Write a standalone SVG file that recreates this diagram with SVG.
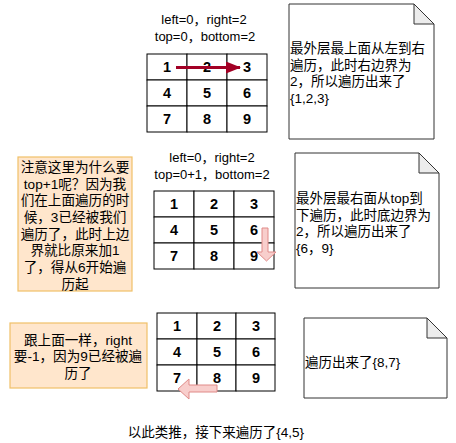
<svg xmlns="http://www.w3.org/2000/svg" width="456" height="443" viewBox="0 0 456 443">
<style>
text{font-family:"Liberation Sans","Noto Sans CJK SC",sans-serif;fill:#000}
.lbl{font-size:13px;text-anchor:middle}
.num{font-size:14.5px;font-weight:bold;text-anchor:middle}
.note{font-size:13.5px}
.cell{fill:#fff;stroke:#000;stroke-width:1}
.org{fill:#ffe6cc;stroke:#f0c068;stroke-width:1.2}
.ot{font-size:13.6px;text-anchor:middle}
.pg{fill:#fff;stroke:#333;stroke-width:1}
.fold{fill:#ececec;stroke:#333;stroke-width:1}
.blk{fill:#f8cecc;stroke:#e08a88;stroke-width:1}
</style>
<defs>
<marker id="ah" markerWidth="15" markerHeight="12" refX="14" refY="6" orient="auto" markerUnits="userSpaceOnUse"><path d="M0,0 L15,6 L0,12 Z" fill="#a20025"/></marker>
</defs>
<rect width="456" height="443" fill="#fff"/>

<g id="label1">
<text class="lbl" x="204" y="24">left=0，right=2</text>
<text class="lbl" x="205" y="41">top=0，bottom=2</text>
</g>
<g id="grid1">
<rect class="cell" x="147" y="54" width="40" height="26"/><rect class="cell" x="187" y="54" width="40" height="26"/><rect class="cell" x="227" y="54" width="40" height="26"/>
<rect class="cell" x="147" y="80" width="40" height="26"/><rect class="cell" x="187" y="80" width="40" height="26"/><rect class="cell" x="227" y="80" width="40" height="26"/>
<rect class="cell" x="147" y="106" width="40" height="26"/><rect class="cell" x="187" y="106" width="40" height="26"/><rect class="cell" x="227" y="106" width="40" height="26"/>
<text class="num" x="167" y="72">1</text><text class="num" x="207" y="72">2</text><text class="num" x="247" y="72">3</text>
<text class="num" x="167" y="98">4</text><text class="num" x="207" y="98">5</text><text class="num" x="247" y="98">6</text>
<text class="num" x="167" y="124">7</text><text class="num" x="207" y="124">8</text><text class="num" x="247" y="124">9</text>
</g>

<g id="note1">
<path class="pg" d="M289,4 H414 L434,24 V139 H289 Z"/>
<path class="fold" d="M414,4 V24 H434 Z"/>
<text class="note" x="290" y="53">最外层最上面从左到右</text>
<text class="note" x="290" y="70">遍历，此时右边界为</text>
<text class="note" x="290" y="86">2，所以遍历出来了</text>
<text class="note" x="290" y="103">{1,2,3}</text>
</g>

<g id="explain1">
<rect class="org" x="18" y="157" width="114" height="134"/>
<text class="ot" x="75" y="172">注意这里为什么要</text>
<text class="ot" x="75" y="189">top+1呢？因为我</text>
<text class="ot" x="75" y="205">们在上面遍历的时</text>
<text class="ot" x="75" y="222">候，3已经被我们</text>
<text class="ot" x="75" y="239">遍历了，此时上边</text>
<text class="ot" x="75" y="255">界就比原来加1</text>
<text class="ot" x="75" y="272">了，得从6开始遍</text>
<text class="ot" x="75" y="289">历起</text>
</g>

<g id="label2">
<text class="lbl" x="212" y="162">left=0，right=2</text>
<text class="lbl" x="212" y="179">top=0+1，bottom=2</text>
</g>
<g id="grid2">
<rect class="cell" x="154" y="191" width="40" height="26"/><rect class="cell" x="194" y="191" width="40" height="26"/><rect class="cell" x="234" y="191" width="40" height="26"/>
<rect class="cell" x="154" y="217" width="40" height="26"/><rect class="cell" x="194" y="217" width="40" height="26"/><rect class="cell" x="234" y="217" width="40" height="26"/>
<rect class="cell" x="154" y="243" width="40" height="26"/><rect class="cell" x="194" y="243" width="40" height="26"/><rect class="cell" x="234" y="243" width="40" height="26"/>
<text class="num" x="174" y="209">1</text><text class="num" x="214" y="209">2</text><text class="num" x="254" y="209">3</text>
<text class="num" x="174" y="235">4</text><text class="num" x="214" y="235">5</text><text class="num" x="254" y="235">6</text>
<text class="num" x="174" y="261">7</text><text class="num" x="214" y="261">8</text><text class="num" x="254" y="261">9</text>
</g>

<g id="note2">
<path class="pg" d="M295,153 H419 L439,173 V288 H295 Z"/>
<path class="fold" d="M419,153 V173 H439 Z"/>
<text class="note" x="296" y="203">最外层最右面从top到</text>
<text class="note" x="296" y="220">下遍历，此时底边界为</text>
<text class="note" x="296" y="236">2，所以遍历出来了</text>
<text class="note" x="296" y="253">{6，9}</text>
</g>

<g id="explain2">
<rect class="org" x="10" y="323" width="137" height="65"/>
<text class="ot" x="78" y="345">跟上面一样，right</text>
<text class="ot" x="78" y="361">要-1，因为9已经被遍</text>
<text class="ot" x="78" y="378">历了</text>
</g>

<g id="grid3">
<rect class="cell" x="157" y="313" width="40" height="26"/><rect class="cell" x="197" y="313" width="39" height="26"/><rect class="cell" x="236" y="313" width="39" height="26"/>
<rect class="cell" x="157" y="339" width="40" height="26"/><rect class="cell" x="197" y="339" width="39" height="26"/><rect class="cell" x="236" y="339" width="39" height="26"/>
<rect class="cell" x="157" y="365" width="40" height="26"/><rect class="cell" x="197" y="365" width="39" height="26"/><rect class="cell" x="236" y="365" width="39" height="26"/>
<text class="num" x="177" y="331">1</text><text class="num" x="217" y="331">2</text><text class="num" x="256" y="331">3</text>
<text class="num" x="177" y="357">4</text><text class="num" x="217" y="357">5</text><text class="num" x="256" y="357">6</text>
<text class="num" x="177" y="383">7</text><text class="num" x="217" y="383">8</text><text class="num" x="256" y="383">9</text>
</g>

<g id="note3">
<path class="pg" d="M304,318 H427 L447,338 V398 H304 Z"/>
<path class="fold" d="M427,318 V338 H447 Z"/>
<text class="note" x="305" y="367">遍历出来了{8,7}</text>
</g>

<g id="summary">
<text class="lbl" x="216" y="437" style="font-size:13.5px">以此类推，接下来遍历了{4,5}</text>
</g>

<g id="connectors">
<line x1="176" y1="67.5" x2="240" y2="67.5" stroke="#a20025" stroke-width="3" marker-end="url(#ah)"/>
<path class="blk" d="M262,228 H268 V252 H276 L266.5,261 L257,252 H262 Z"/>
<path class="blk" d="M217,385 V392 H189 V399 L178,389 L189,379 V385 Z"/>
</g>
</svg>
